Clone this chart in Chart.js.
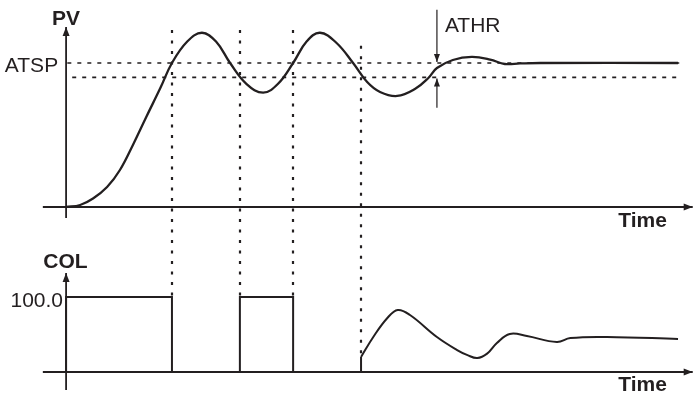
<!DOCTYPE html>
<html>
<head>
<meta charset="utf-8">
<script src="https://cdn.jsdelivr.net/npm/chart.js@4.4.1/dist/chart.umd.min.js"></script>
<style>
html, body { margin: 0; padding: 0; background: #fff; }
#wrap { position: relative; width: 697px; height: 395px; }
</style>
</head>
<body>
<div id="wrap"><canvas id="tuning"></canvas></div>
<script>
// process value during autotuning (time in arbitrary units, PV in % of ATSP)
const pvTime  = [0, 2.3, 4.4, 6.7, 8.8, 11.0, 13.1, 15.4, 17.3, 19.8, 22.2, 24.5, 26.8, 29.5, 32.2, 34.6, 37.1, 39.3, 41.5, 44.2, 46.9, 49.2, 51.3, 54.1, 57.0, 59.2, 60.6, 63.2, 66.3, 69.3, 71.7, 74.2, 77.5, 100];
const pvValue = [0, 1.4, 5.9, 13.9, 25.7, 43.8, 62.5, 82.6, 100, 114.9, 121.0, 114.9, 100, 85.4, 79.4, 85.4, 100, 114.9, 121.0, 113.9, 100, 86.8, 79.9, 77.1, 81.9, 89.6, 96.5, 102.1, 104.2, 102.4, 99.3, 99.7, 100, 100];

// control output: on/off pulses, then PID output
const pulseTime  = [0, 0, 17.3, 17.3, 28.4, 28.4, 37.1, 37.1, 48.2, 48.2];
const pulseValue = [0, 100, 100, 0, 0, 100, 100, 0, 0, 20];
const colTime  = [48.2, 50.2, 52.5, 54.2, 56.2, 60.6, 63.9, 65.6, 67.2, 68.8, 70.4, 72.5, 75.3, 80.2, 82.4, 88.4, 100];
const colValue = [20, 46.7, 72, 82.7, 76, 46.7, 29.3, 22.5, 18.7, 24.5, 38.7, 50.7, 48, 40, 45.3, 46.7, 44];

// switching instants (dotted verticals)
const switchTimes = [17.3, 28.4, 37.1, 48.2];
const switchTop = [123, 123, 123, 112];     // PV units
const switchBottom = [100, 100, 100, 20];   // COL units

const atsp = 100;
const athrLow = 90;
const athrTime = 60.6;
const colMax = 100;

const INK = '#231f20';
const FONT = '"Liberation Sans", Arial, sans-serif';

function toXY(xs, ys) {
    return xs.map((x, i) => ({ x: x, y: ys[i] }));
}

function drawArrow(ctx, x1, y1, x2, y2, len, half) {
    ctx.beginPath();
    ctx.moveTo(x1, y1);
    ctx.lineTo(x2, y2);
    ctx.stroke();
    const a = Math.atan2(y2 - y1, x2 - x1);
    ctx.beginPath();
    ctx.moveTo(x2, y2);
    ctx.lineTo(x2 - len * Math.cos(a) + half * Math.sin(a), y2 - len * Math.sin(a) - half * Math.cos(a));
    ctx.lineTo(x2 - len * Math.cos(a) - half * Math.sin(a), y2 - len * Math.sin(a) + half * Math.cos(a));
    ctx.closePath();
    ctx.fill();
}

// text placed by its baseline
function label(ctx, text, x, y, align, bold) {
    ctx.font = (bold ? 'bold ' : '') + '21px ' + FONT;
    ctx.textAlign = align;
    ctx.textBaseline = 'alphabetic';
    ctx.fillText(text, x, y);
}

const overlay = {
    id: 'overlay',
    beforeDatasetsDraw(chart) {
        const { ctx, scales: { x, yPV, yCOL } } = chart;
        ctx.save();
        ctx.strokeStyle = INK;
        ctx.lineWidth = 2.2;
        ctx.setLineDash([3, 7.5]);
        switchTimes.forEach((t, i) => {
            const px = Math.round(x.getPixelForValue(t));
            ctx.beginPath();
            ctx.moveTo(px, yPV.getPixelForValue(switchTop[i]));
            ctx.lineTo(px, yCOL.getPixelForValue(switchBottom[i]));
            ctx.stroke();
        });
        ctx.restore();
    },
    afterDatasetsDraw(chart) {
        const { ctx, scales: { x, yPV, yCOL } } = chart;
        ctx.save();
        ctx.strokeStyle = INK;
        ctx.fillStyle = INK;
        ctx.lineWidth = 1.8;
        const x0 = x.getPixelForValue(0);
        const xL = x.getPixelForValue(-3.8);
        const xR = x.getPixelForValue(102.4);

        // PV panel axes
        drawArrow(ctx, xL, yPV.getPixelForValue(0), xR, yPV.getPixelForValue(0), 9, 3.5);
        drawArrow(ctx, x0, yPV.getPixelForValue(-7.6), x0, yPV.getPixelForValue(125), 9, 3.5);
        // COL panel axes
        drawArrow(ctx, xL, yCOL.getPixelForValue(0), xR, yCOL.getPixelForValue(0), 9, 3.5);
        drawArrow(ctx, x0, yCOL.getPixelForValue(-24), x0, yCOL.getPixelForValue(132), 9, 3.5);

        // ATHR band arrows
        ctx.lineWidth = 1.2;
        const xa = x.getPixelForValue(athrTime);
        drawArrow(ctx, xa, yPV.getPixelForValue(137), xa, yPV.getPixelForValue(atsp) - 1, 8, 3);
        drawArrow(ctx, xa, yPV.getPixelForValue(69), xa, yPV.getPixelForValue(athrLow) + 1, 8, 3);

        // texts
        label(ctx, 'PV', x0, yPV.getPixelForValue(126.4), 'center', true);
        label(ctx, 'ATSP', x.getPixelForValue(-1.3), yPV.getPixelForValue(93.8), 'right', false);
        label(ctx, 'ATHR', x.getPixelForValue(61.9), yPV.getPixelForValue(121.5), 'left', false);
        label(ctx, 'Time', x.getPixelForValue(94.2), yPV.getPixelForValue(-13.9), 'center', true);
        label(ctx, 'COL', x.getPixelForValue(-0.1), yCOL.getPixelForValue(138.7), 'center', true);
        label(ctx, '100.0', x.getPixelForValue(-0.5), yCOL.getPixelForValue(86.7), 'right', false);
        label(ctx, 'Time', x.getPixelForValue(94.2), yCOL.getPixelForValue(-25.3), 'center', true);
        ctx.restore();
    }
};

new Chart(document.getElementById('tuning'), {
    type: 'line',
    data: {
        datasets: [
            {
                label: 'ATSP',
                data: toXY([0.2, 100.2], [atsp, atsp]),
                yAxisID: 'yPV',
                borderColor: INK,
                borderWidth: 1.7,
                borderDash: [4, 6],
                pointRadius: 0
            },
            {
                label: 'ATSP - ATHR',
                data: toXY([1, 100.4], [athrLow, athrLow]),
                yAxisID: 'yPV',
                borderColor: INK,
                borderWidth: 1.7,
                borderDash: [4, 6],
                pointRadius: 0
            },
            {
                label: 'PV',
                data: toXY(pvTime, pvValue),
                yAxisID: 'yPV',
                borderColor: INK,
                borderWidth: 2.3,
                tension: 0.4,
                pointRadius: 0
            },
            {
                label: 'COL pulses',
                data: toXY(pulseTime, pulseValue),
                yAxisID: 'yCOL',
                borderColor: INK,
                borderWidth: 2,
                tension: 0,
                pointRadius: 0
            },
            {
                label: 'COL',
                data: toXY(colTime, colValue),
                yAxisID: 'yCOL',
                borderColor: INK,
                borderWidth: 2,
                tension: 0.4,
                pointRadius: 0
            }
        ]
    },
    options: {
        responsive: true,
        maintainAspectRatio: false,
        animation: false,
        layout: { padding: 0 },
        plugins: {
            legend: { display: false },
            tooltip: { enabled: false }
        },
        scales: {
            x: { type: 'linear', display: false, min: -10.8, max: 103.1 },
            yPV: { type: 'linear', display: false, min: -130.56, max: 143.75 },
            yCOL: { type: 'linear', display: false, min: -30.67, max: 496 }
        }
    },
    plugins: [overlay]
});
</script>
</body>
</html>
